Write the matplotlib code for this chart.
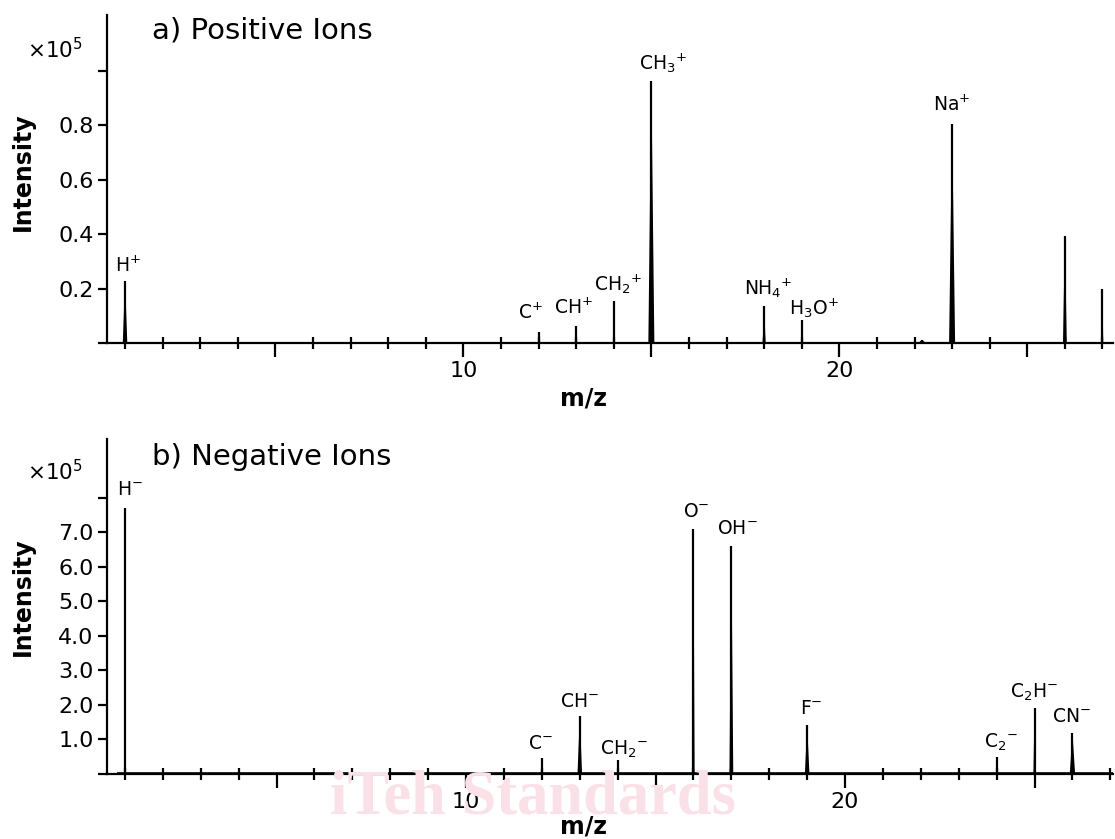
import matplotlib
matplotlib.use("Agg")
import matplotlib.pyplot as plt

plt.rcParams["font.family"] = ["DejaVu Sans"]
plt.rcParams["mathtext.default"] = "regular"

# ---- data ----
POS_MZ = [1, 12, 13, 14, 15, 18, 19, 22.2, 23, 26, 27]
POS_INT = [0.228, 0.04, 0.062, 0.154, 0.962, 0.136, 0.085, 0.012, 0.805, 0.394, 0.20]
POS_LABELS = ["H$^{+}$", "C$^{+}$", "CH$^{+}$", "CH$_2{}^{+}$", "CH$_3{}^{+}$",
              "NH$_4{}^{+}$", "H$_3$O$^{+}$", "", "Na$^{+}$", "", ""]
POS_HALFW = [0.06, 0.0, 0.0, 0.0, 0.08, 0.04, 0.0, 0.1, 0.08, 0.05, 0.02]

NEG_MZ = [1, 12, 13, 14, 16, 17, 19, 24, 25, 26]
NEG_INT = [7.72, 0.45, 1.67, 0.42, 7.09, 6.6, 1.41, 0.48, 1.9, 1.2]
NEG_LABELS = ["H$^{-}$", "C$^{-}$", "CH$^{-}$", "CH$_2{}^{-}$", "O$^{-}$",
              "OH$^{-}$", "F$^{-}$", "C$_2{}^{-}$", "C$_2$H$^{-}$", "CN$^{-}$"]
NEG_HALFW = [0.02, 0.03, 0.06, 0.0, 0.03, 0.05, 0.06, 0.0, 0.03, 0.07]

POS_YTICKS = [0, 0.2, 0.4, 0.6, 0.8, 1.0]
POS_YTICKLABELS = ["", "0.2", "0.4", "0.6", "0.8", ""]
NEG_YTICKS = [0, 1, 2, 3, 4, 5, 6, 7, 8]
NEG_YTICKLABELS = ["", "1.0", "2.0", "3.0", "4.0", "5.0", "6.0", "7.0", ""]
XMAJOR = [5, 10, 15, 20, 25]
XMAJOR_LABELS = ["", "10", "", "20", ""]
XMINOR = list(range(1, 28))

# label offsets in pixels (dx, gap above peak)
POS_DX = [3, -8, -3, 4, 12, 4, 12, 0, 0, 0, 0]
POS_DY = [5, 9, 8, 5, 6, 6, 0, 0, 9, 0, 0]
NEG_DX = [5, -1, 0, 6, 3, 6, 4, 4, -1, -1]
NEG_DY = [9, 5, 5, 0, 8, 8, 7, 4, 5, 7]

W, H = 1115, 839
fig = plt.figure(figsize=(W / 100, H / 100), dpi=100)


def px_axes(left, top, right, bottom):
    return fig.add_axes([left / W, 1 - bottom / H, (right - left) / W, (bottom - top) / H])


def draw_panel(ax, mz, inten, halfw, labels, dx, dy, ylim, xlim, yticks, yticklabels):
    for m, h, w in zip(mz, inten, halfw):
        if w > 0:
            ax.fill([m - w, m, m + w], [0, h, 0], color="black", lw=0)
    ax.vlines(mz, 0, inten, color="black", lw=1.6)
    for m, h, lab, ox, oy in zip(mz, inten, labels, dx, dy):
        if lab:
            ax.annotate(lab, (m, h), xytext=(ox * 0.72, oy * 0.72),
                        textcoords="offset points", ha="center", va="bottom",
                        fontsize=13.5)
    ax.set_xlim(*xlim)
    ax.set_ylim(*ylim)
    ax.set_xticks(XMAJOR)
    ax.set_xticklabels(XMAJOR_LABELS)
    ax.set_xticks(XMINOR, minor=True)
    ax.set_yticks(yticks)
    ax.set_yticklabels(yticklabels)
    for s in ["top", "right"]:
        ax.spines[s].set_visible(False)
    for s in ["left", "bottom"]:
        ax.spines[s].set_linewidth(1.6)
    ax.tick_params(axis="x", which="major", direction="out", length=10, width=1.6,
                   labelsize=16, pad=3)
    ax.tick_params(axis="x", which="minor", direction="inout", length=9, width=1.6)
    ax.tick_params(axis="y", which="major", direction="out", length=6.5, width=1.6,
                   labelsize=16, pad=3)
    ax.patch.set_alpha(0)


# watermark (behind everything)
fig.text(533 / W, 1 - 813 / H, "iTeh Standards", fontsize=45, fontweight="bold",
         family="Liberation Serif", color="#fae1e8", ha="center", va="baseline", zorder=0)

ax_a = px_axes(107, 15, 1113, 343)
draw_panel(ax_a, POS_MZ, POS_INT, POS_HALFW, POS_LABELS, POS_DX, POS_DY,
           (0, 1.206), (0.52, 27.28), POS_YTICKS, POS_YTICKLABELS)

ax_b = px_axes(107, 439, 1113, 774)
ax_b.hlines(0, 0.8, 27.07, color="black", lw=2.6, zorder=3)
draw_panel(ax_b, NEG_MZ, NEG_INT, NEG_HALFW, NEG_LABELS, NEG_DX, NEG_DY,
           (0, 9.71), (0.525, 27.07), NEG_YTICKS, NEG_YTICKLABELS)

# titles, multipliers, axis labels
fig.text(152 / W, 1 - 30 / H, "a) Positive Ions", fontsize=21, ha="left", va="center")
fig.text(152 / W, 1 - 457 / H, "b) Negative Ions", fontsize=21, ha="left", va="center")
fig.text(55 / W, 1 - 50 / H, r"×10$^5$", fontsize=15.5, ha="center", va="center")
fig.text(55 / W, 1 - 472 / H, r"×10$^5$", fontsize=15.5, ha="center", va="center")
fig.text(23 / W, 1 - 172 / H, "Intensity", fontsize=17, fontweight="bold",
         rotation=90, ha="center", va="center")
fig.text(23 / W, 1 - 597 / H, "Intensity", fontsize=17, fontweight="bold",
         rotation=90, ha="center", va="center")
fig.text(584 / W, 1 - 398 / H, "m/z", fontsize=17, fontweight="bold", ha="center", va="center")
fig.text(584 / W, 1 - 826 / H, "m/z", fontsize=17, fontweight="bold", ha="center", va="center")

fig.savefig("out.png", dpi=100)
